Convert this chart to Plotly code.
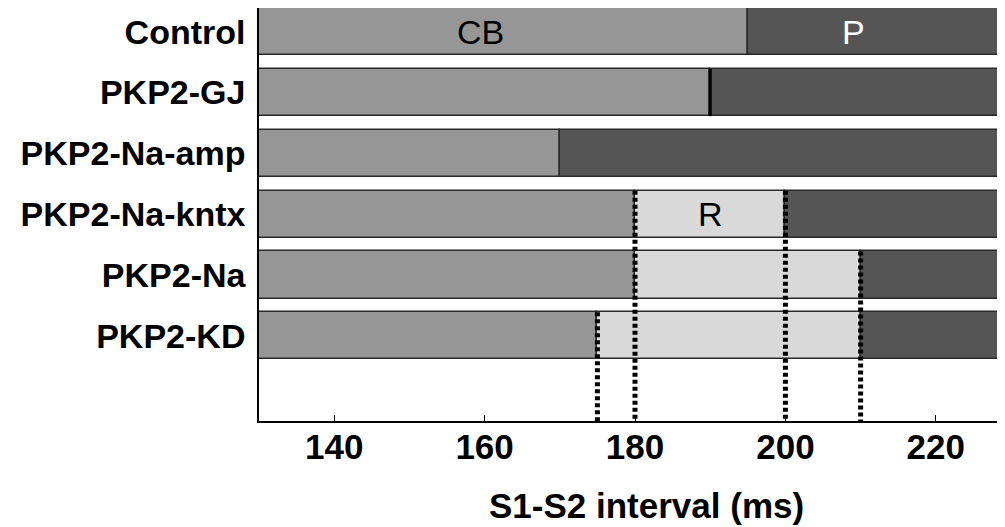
import plotly.graph_objects as go

categories = ["Control", "PKP2-GJ", "PKP2-Na-amp", "PKP2-Na-kntx", "PKP2-Na", "PKP2-KD"]
cb_end = [195, 190, 170, 180, 180, 175]
r_end = [195, 190, 170, 200, 210, 210]
p_end = [230, 230, 230, 230, 230, 230]
x_start = 130
x_ticks = [140, 160, 180, 200, 220]
# dotted markers: (x value, row where it starts)
dotted_x = [175, 180, 200, 210]
dotted_row = [5, 3, 3, 4]
segment_labels = [("CB", 159.5, 0, "black"), ("P", 209, 0, "white"), ("R", 190, 3, "black")]

C_CB = "#969696"
C_R = "#d9d9d9"
C_P = "#555555"
OUT = "#2a2a2a"
BW = 0.775
ys = list(range(len(categories)))
FONT = "Liberation Sans, Arial"

fig = go.Figure()
fig.add_trace(go.Bar(
    y=ys, base=[x_start] * len(ys), x=[e - x_start for e in cb_end],
    orientation="h", width=BW, marker=dict(color=C_CB, line=dict(color=OUT, width=1.5)),
    hoverinfo="skip", showlegend=False))
r_idx = [i for i in ys if r_end[i] > cb_end[i]]
fig.add_trace(go.Bar(
    y=r_idx, base=[cb_end[i] for i in r_idx], x=[r_end[i] - cb_end[i] for i in r_idx],
    orientation="h", width=BW, marker=dict(color=C_R, line=dict(color=OUT, width=1.5)),
    hoverinfo="skip", showlegend=False))
fig.add_trace(go.Bar(
    y=ys, base=r_end, x=[p_end[i] - r_end[i] for i in ys],
    orientation="h", width=BW, marker=dict(color=C_P, line=dict(color=OUT, width=1.5)),
    hoverinfo="skip", showlegend=False))

y_bottom = 6.4
for xv, row in zip(dotted_x, dotted_row):
    fig.add_shape(type="line", x0=xv, x1=xv, y0=row - BW / 2, y1=y_bottom,
                  xref="x", yref="y", line=dict(color="black", width=5, dash="4px,3px"))
# solid boundary for GJ
fig.add_shape(type="line", x0=cb_end[1], x1=cb_end[1], y0=1 - BW / 2, y1=1 + BW / 2,
              xref="x", yref="y", line=dict(color="black", width=3))

for txt, xv, row, col in segment_labels:
    fig.add_annotation(x=xv, y=row, text=txt, showarrow=False, xref="x", yref="y",
                       font=dict(family=FONT, size=34, color=col))

# page body has an 8px margin; figure is placed at (8, 8)
W, H = 997, 519
L, T, B = 251, 0, 106
plot_w, plot_h = W - L, H - T - B
fig.add_annotation(x=(638 - L) / plot_w, y=(plot_h + T - 498) / plot_h, xref="paper", yref="paper",
                   text="S1-S2 interval (ms)", showarrow=False, yanchor="middle",
                   font=dict(family=FONT, size=35, color="black", weight="bold"))

fig.update_layout(
    width=W, height=H,
    margin=dict(l=L, r=0, t=T, b=B, pad=0),
    paper_bgcolor="white", plot_bgcolor="white",
    barmode="overlay", bargap=0,
    xaxis=dict(range=[x_start, 229.2], tickvals=x_ticks, ticks="inside", ticklen=6,
               tickcolor="black", showline=True, linecolor="black", linewidth=1.5,
               showgrid=False, zeroline=False, ticklabelstandoff=-6,
               tickfont=dict(family=FONT, size=35, color="black", weight="bold")),
    yaxis=dict(range=[y_bottom, -0.39], tickvals=ys, ticktext=categories, ticks="",
               showline=True, linecolor="black", linewidth=1.5, showgrid=False, zeroline=False,
               ticklabelstandoff=5, automargin=False,
               tickfont=dict(family=FONT, size=34, color="black", weight="bold")),
)
fig.write_html("out.html")
